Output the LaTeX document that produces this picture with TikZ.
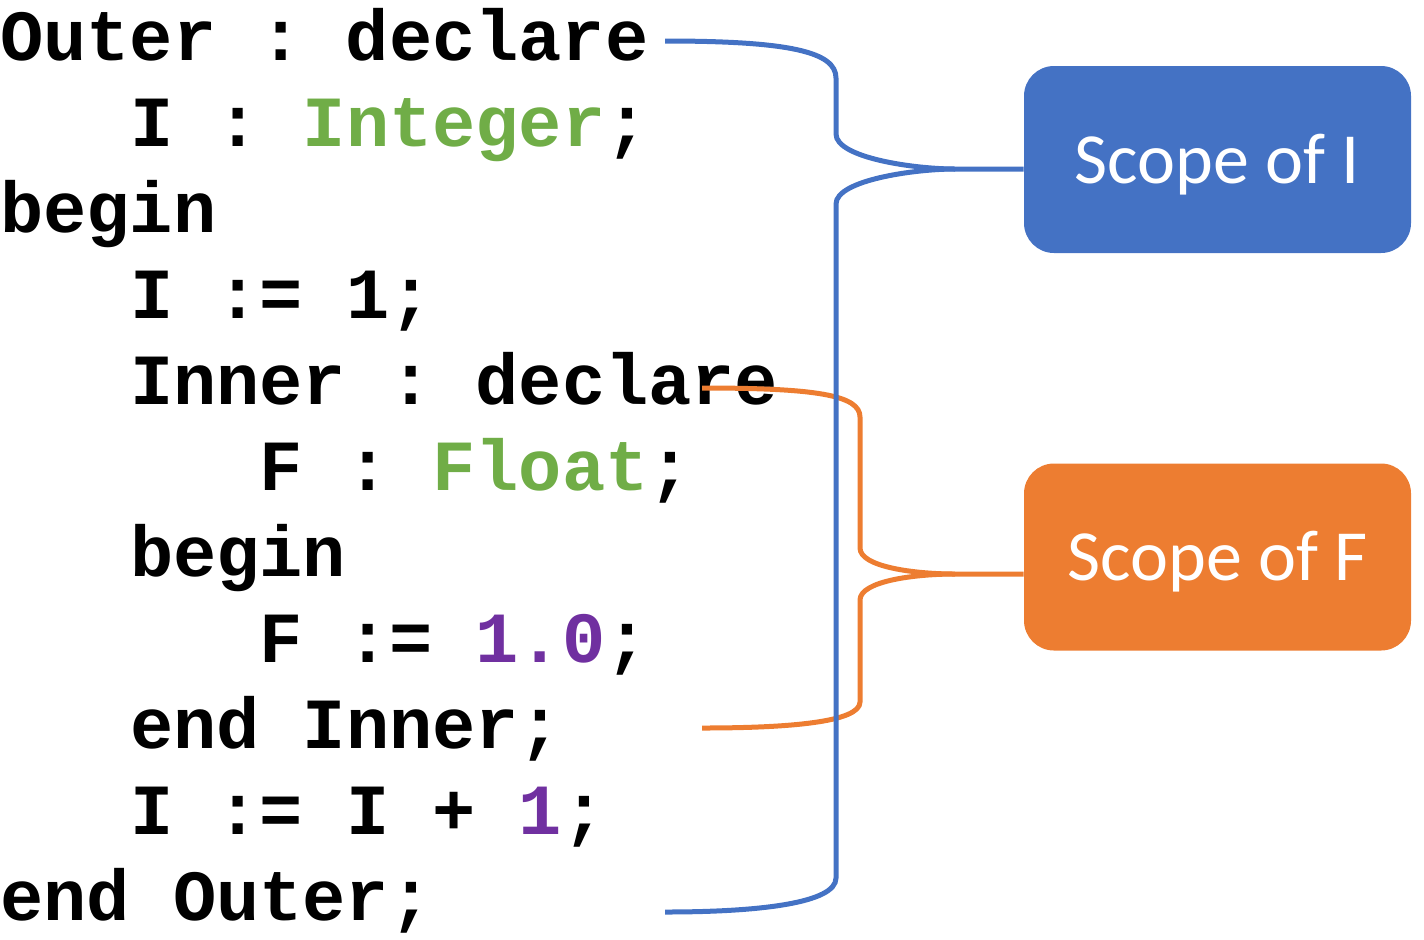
\documentclass[tikz,border=0pt]{standalone}
\usepackage{fontspec}
\usepackage{tikz}
\newfontfamily\codefont{Liberation Mono}
\newfontfamily\labelfont{Carlito}
\definecolor{scopeblue}{RGB}{68,114,196}
\definecolor{scopeorange}{RGB}{237,125,49}
\definecolor{typegreen}{RGB}{112,173,71}
\definecolor{numpurple}{RGB}{112,48,160}

\begin{document}
\begin{tikzpicture}[x=0.5pt,y=0.5pt,yscale=-1,xscale=1,
    codeline/.style={anchor=base west,inner sep=0pt,font=\codefont\bfseries\fontsize{36pt}{36pt}\selectfont\frenchspacing},
    scopebox/.style={rounded corners=15pt,minimum width=193.5pt,minimum height=93.5pt,inner sep=0pt,
        text height=26pt,text depth=2.5pt,text=white,font=\labelfont\fontsize{36pt}{36pt}\selectfont},
    bracei/.style={draw=scopeblue,line width=2.5pt},
    bracef/.style={draw=scopeorange,line width=2.5pt}]
    \useasboundingbox (0,0) rectangle (1424,939);

    % Text Node
    \node[codeline] (outerdecl) at (0,60) {Outer : declare};
    % Text Node
    \node[codeline] (idecl) at (129.6,146) {I : \textcolor{typegreen}{Integer};};
    % Text Node
    \node[codeline] (outerbegin) at (0,232) {begin};
    % Text Node
    \node[codeline] (iassign) at (129.6,318) {I := 1;};
    % Text Node
    \node[codeline] (innerdecl) at (129.6,404) {Inner : declare};
    % Text Node
    \node[codeline] (fdecl) at (259.2,490) {F : \textcolor{typegreen}{Float};};
    % Text Node
    \node[codeline] (innerbegin) at (129.6,576) {begin};
    % Text Node
    \node[codeline] (fassign) at (259.2,662) {F := \textcolor{numpurple}{1.0};};
    % Text Node
    \node[codeline] (innerend) at (129.6,748) {end Inner;};
    % Text Node
    \node[codeline] (iincr) at (129.6,834) {I := I + \textcolor{numpurple}{1};};
    % Text Node
    \node[codeline] (outerend) at (0,920) {end Outer;};

    %Shape: Rounded Rectangle
    \node[scopebox,fill=scopeblue] (scopeI) at (1217.5,159.5) {Scope of I};
    %Shape: Rounded Rectangle
    \node[scopebox,fill=scopeorange] (scopeF) at (1217.5,557) {Scope of F};

    \coordinate (iTop) at (665,41);
    \coordinate (iTip) at (955,169);
    \coordinate (iBot) at (665,912);
    \coordinate (fTop) at (702,388);
    \coordinate (fTip) at (955,574);
    \coordinate (fBot) at (702,728);

    %Curve Lines: scope of F
    \draw[bracef] (fTop) .. controls (815,388) and (860,395) .. (860,417) -- (860,548) .. controls (860,567) and (915,574) .. (fTip) -- (fTip -| scopeF.west);
    \draw[bracef] (fTip) .. controls (915,574) and (860,581) .. (860,600) -- (860,702) .. controls (860,722) and (790,728) .. (fBot);
    %Curve Lines: scope of I
    \draw[bracei] (iTop) .. controls (790,41) and (836,52) .. (836,78) -- (836,134) .. controls (836,158) and (915,169) .. (iTip) -- (iTip -| scopeI.west);
    \draw[bracei] (iTip) .. controls (915,169) and (836,180) .. (836,204) -- (836,878) .. controls (836,903) and (760,912) .. (iBot);

\end{tikzpicture}
\end{document}
